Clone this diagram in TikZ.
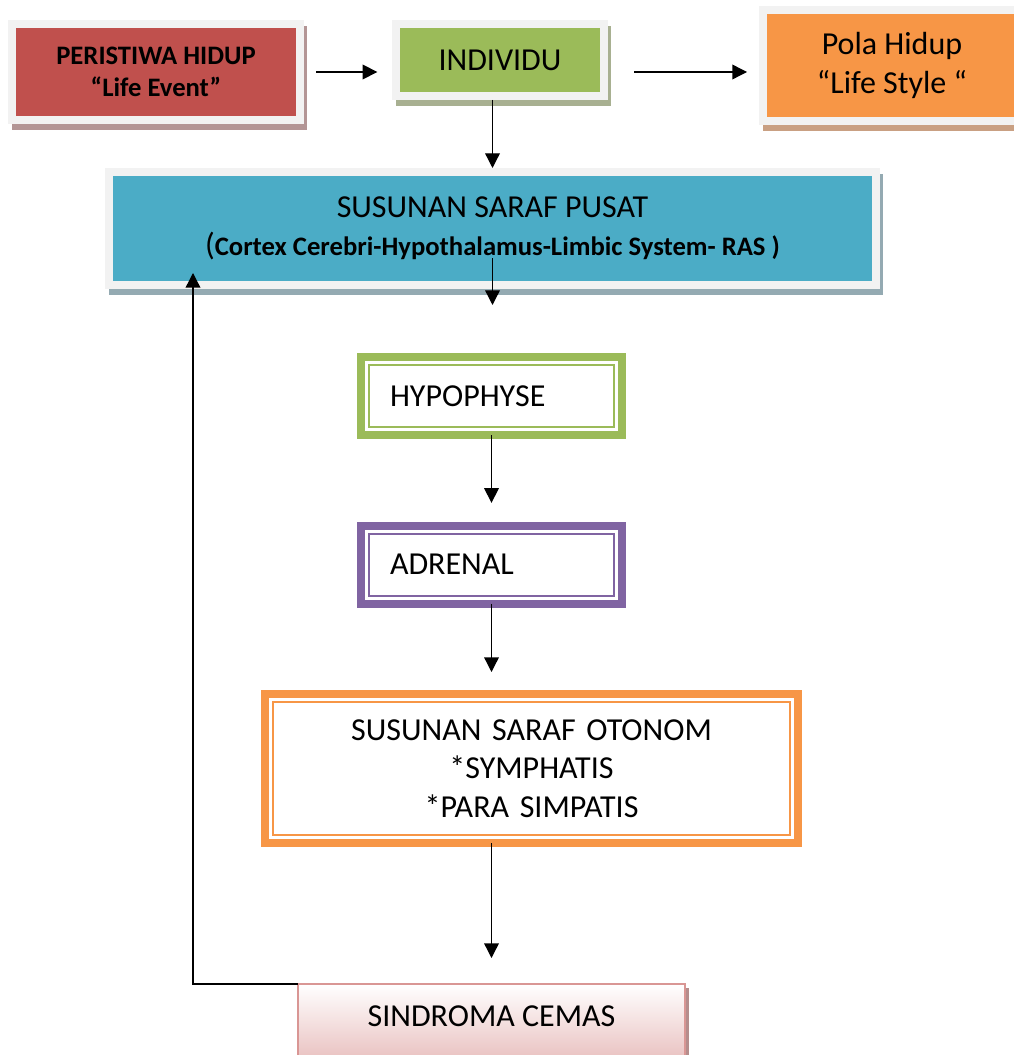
\documentclass[tikz,border=0pt]{standalone}
\usepackage{fontspec}
\setmainfont{Carlito}
\usetikzlibrary{arrows.meta,shadows}

\definecolor{eventred}{HTML}{C0504D}
\definecolor{indgreen}{HTML}{9BBB59}
\definecolor{polaorange}{HTML}{F79646}
\definecolor{pusatblue}{HTML}{4BACC6}
\definecolor{adrpurple}{HTML}{8064A2}
\definecolor{framegray}{HTML}{F2F2F2}
\definecolor{cemaspink}{HTML}{E6B9B8}
\definecolor{cemasborder}{HTML}{D99694}
\definecolor{eventshadow}{HTML}{B39595}
\definecolor{indshadow}{HTML}{A8B091}
\definecolor{polashadow}{HTML}{C9A083}
\definecolor{pusatshadow}{HTML}{94AAB2}

\newcommand{\diagfont}{\fontsize{24}{29}\selectfont}

\begin{document}
\begin{tikzpicture}[x=0.75pt, y=-0.75pt,
    every node/.style={text=black, font=\diagfont},
    framebox/.style={draw=framegray, line width=5.5pt, outer sep=0pt, align=center},
    ringbox/.style={line width=6pt, outer sep=0pt, fill=white, minimum width=195.75pt,
        minimum height=58.5pt, text width=152.25pt, inner xsep=21.75pt, align=left},
    arr/.style={-{Triangle[length=11pt,width=11pt]}, line width=1pt}]
    \useasboundingbox (0,0) rectangle (1013,1055);

    % First the top row and the central nervous system box
    \node[framebox, fill=eventred, minimum width=216pt, minimum height=72pt,
        font=\fontsize{20}{24}\selectfont\bfseries,
        general shadow={fill=eventshadow, draw=eventshadow, shadow xshift=2.5pt, shadow yshift=-4.5pt}]
        (event) at (156,72) {PERISTIWA HIDUP\\“Life Event”};
    \node[framebox, fill=indgreen, minimum width=156pt, minimum height=54pt,
        general shadow={fill=indshadow, draw=indshadow, shadow xshift=2.5pt, shadow yshift=-4.5pt}]
        (individu) at (500,60) {INDIVIDU};
    \node[framebox, fill=polaorange, minimum width=193.5pt, minimum height=83.25pt,
        general shadow={fill=polashadow, draw=polashadow, shadow xshift=2.5pt, shadow yshift=-4.5pt}]
        (pola) at (892,65.5) {Pola Hidup\\“Life Style “};
    \node[framebox, fill=pusatblue, minimum width=575.25pt, minimum height=84.75pt,
        general shadow={fill=pusatshadow, draw=pusatshadow, shadow xshift=2.5pt, shadow yshift=-4.5pt}]
        (pusat) at (492.5,228.5) {SUSUNAN SARAF PUSAT\\{\diagfont(}{\fontsize{20}{24}\selectfont\bfseries Cortex Cerebri-Hypothalamus-Limbic System- RAS )}};

    % Then the boxes with a double border
    \node[ringbox, draw=indgreen] (hypophyse) at (491.5,396) {HYPOPHYSE};
    \node[ringbox, draw=adrpurple] (adrenal) at (491.5,564.5) {ADRENAL};
    \node[ringbox, draw=polaorange, minimum width=399.75pt, minimum height=111.75pt,
        text width=320pt, align=center] (otonom) at (531.5,768.5)
        {SUSUNAN SARAF OTONOM\\{*}SYMPHATIS\\{*}PARA SIMPATIS};
    \foreach \nm/\col in {hypophyse/indgreen, adrenal/adrpurple, otonom/polaorange}
        \draw[\col, line width=1.5pt] ([shift={(8,8)}]\nm.north west) rectangle ([shift={(-8,-8)}]\nm.south east);

    \node[draw=cemasborder, line width=1.5pt, top color=white, bottom color=cemaspink,
        minimum width=290.25pt, text height=28.5pt, text depth=30pt, inner ysep=3pt,
        anchor=north, outer sep=0pt,
        general shadow={fill=cemasborder!60!gray, shadow xshift=3pt, shadow yshift=-3pt}]
        (cemas) at (491.5,984) {SINDROMA CEMAS};

    % Connectors
    \draw[arr, shorten <=12pt, shorten >=14pt] (event.east) -- (event.east -| individu.west);
    \draw[arr, shorten <=22.5pt, shorten >=12pt] (event.east -| individu.east) -- (event.east -| pola.west);
    \draw[arr, shorten <=3pt, shorten >=3pt] (individu.south -| pusat.north) -- (pusat.north);
    \draw[arr] ([yshift=20pt]pusat.south) -- ([yshift=-15pt]pusat.south);
    \draw[arr, shorten >=17pt] (hypophyse.south) -- (adrenal.north);
    \draw[arr, shorten >=16.5pt] (adrenal.south) -- (otonom.north -| adrenal.south);
    \draw[arr, shorten >=19.5pt] (otonom.south -| cemas.north) -- (cemas.north);
    \coordinate (back) at (193,273);
    \draw[arr] (cemas.north west) -| (back);
\end{tikzpicture}
\end{document}
